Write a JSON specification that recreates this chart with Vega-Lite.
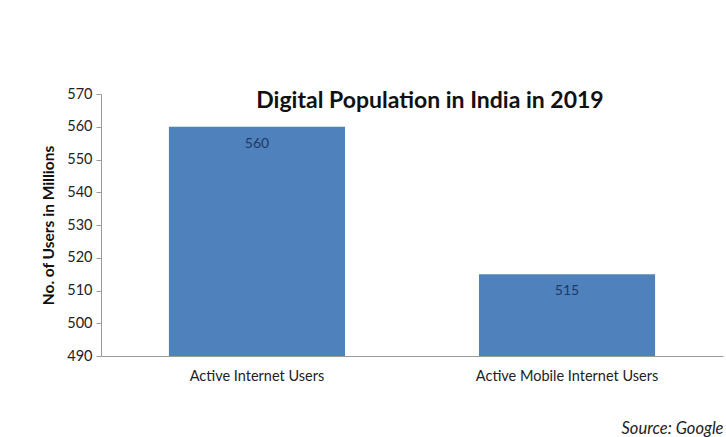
{
  "$schema": "https://vega.github.io/schema/vega-lite/v6.json",
  "width": 622,
  "height": 262,
  "autosize": "none",
  "padding": {"left": 101, "top": 94, "right": 3, "bottom": 81},
  "background": "white",
  "config": {
    "font": "Lato",
    "view": {"stroke": null}
  },
  "title": {
    "text": "Digital Population in India in 2019",
    "fontSize": 23,
    "fontWeight": "bold",
    "font": "Lato",
    "color": "#111111",
    "anchor": "middle",
    "baseline": "alphabetic",
    "offset": -17,
    "dy": 28,
    "dx": 18
  },
  "data": {
    "values": [
      {"category": "Active Internet Users", "users": 560},
      {"category": "Active Mobile Internet Users", "users": 515}
    ]
  },
  "encoding": {
    "x": {
      "field": "category",
      "type": "nominal",
      "sort": null,
      "scale": {"paddingInner": 0.432, "paddingOuter": 0.219},
      "axis": {
        "labelAngle": 0,
        "labelFontSize": 14.5,
        "labelLimit": 0,
        "labelColor": "#222222",
        "labelPadding": 13,
        "ticks": false,
        "domainColor": "#9a9a9a",
        "title": "Source: Google",
        "titleFontStyle": "italic",
        "titleFontWeight": "normal",
        "titleFontSize": 16.5,
        "titleColor": "#222222",
        "titleAnchor": "start",
        "titleAlign": "right",
        "titleBaseline": "alphabetic",
        "titleX": 622,
        "titleY": 77
      }
    },
    "y": {
      "field": "users",
      "type": "quantitative",
      "scale": {"domain": [490, 570], "nice": false, "zero": false},
      "axis": {
        "values": [490, 500, 510, 520, 530, 540, 550, 560, 570],
        "grid": false,
        "labelFontSize": 14.5,
        "labelColor": "#222222",
        "labelPadding": 4,
        "tickSize": 5,
        "tickColor": "#9a9a9a",
        "domainColor": "#9a9a9a",
        "title": "No. of Users in Millions",
        "titleFontSize": 15.5,
        "titleFontWeight": "bold",
        "titleColor": "#111111",
        "titlePadding": 10
      }
    }
  },
  "layer": [
    {
      "mark": {"type": "bar", "color": "#4F81BD", "clip": true}
    },
    {
      "mark": {"type": "text", "baseline": "top", "dy": 10, "fontSize": 14, "color": "#1F3864"},
      "encoding": {"text": {"field": "users", "type": "quantitative"}}
    }
  ]
}
